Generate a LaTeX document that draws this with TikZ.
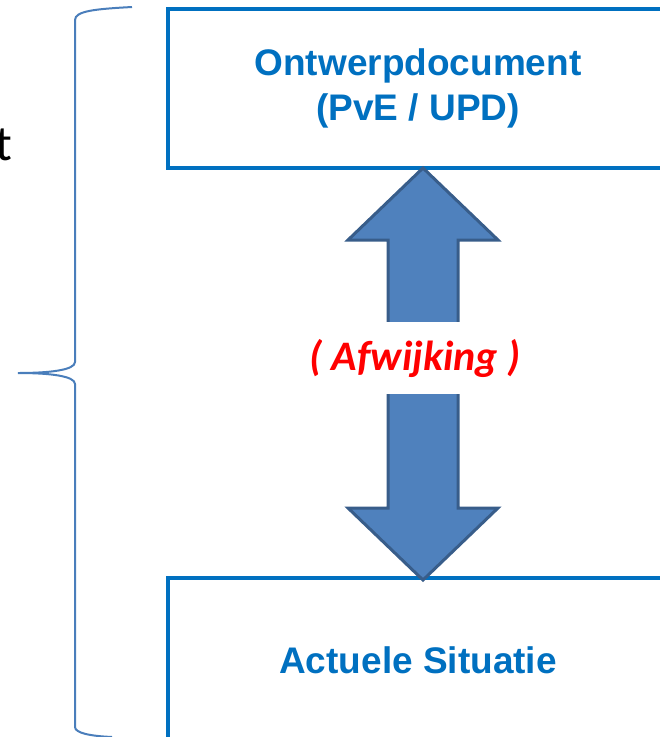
\documentclass[tikz,border=0pt]{standalone}
\usepackage{fontspec}
\setmainfont{Liberation Sans}
\newfontfamily\calibri{Carlito}
\usetikzlibrary{positioning}
\definecolor{boxblue}{HTML}{0070C0}
\definecolor{arrowfill}{HTML}{4F81BD}
\definecolor{arrowedge}{HTML}{385D8A}
\definecolor{bracecol}{HTML}{4A7EBB}
\tikzstyle{docbox} = [rectangle, minimum width=501pt, draw=boxblue, line width=4pt, text=boxblue, font=\fontsize{37}{45}\selectfont\bfseries, align=center]
\tikzstyle{fatarrow} = [fill=arrowfill, draw=arrowedge, line width=3pt, line join=miter]
\tikzstyle{deviation} = [fill=white, minimum height=72pt, text=red, font=\calibri\fontsize{42}{46}\selectfont\bfseries\itshape]
\tikzstyle{bracket} = [draw=bracecol, line width=2pt]

\begin{document}
\begin{tikzpicture}[x=1pt,y=-1pt]
	\useasboundingbox (0,0) rectangle (660,737);
	\clip (0,0) rectangle (660,737);
	
	\node (tletter) [anchor=base east, inner sep=0pt, font=\calibri\fontsize{50}{60}\selectfont] at (12,160) {t};
	
	\draw [bracket] (132,7) .. controls (95,9) and (75,11) .. (75,20) -- (75,362)
		.. controls (75,370) and (50,373) .. (18,373)
		.. controls (50,373) and (75,376) .. (75,384) -- (75,727)
		.. controls (75,733) and (90,736) .. (112,737);
	
	\node (ontwerp) [docbox, anchor=north, minimum height=159pt] at (418,7) {Ontwerpdocument\\(PvE / UPD)};
	
	\node (actueel) [docbox, minimum height=164pt, below=406pt of ontwerp.south] {Actuele Situatie};
	
	\draw [fatarrow] ([shift={(5,-2)}]ontwerp.south) -- ++(75,72) -- ++(-40,0) -- ++(0,268)
		-- ++(40,0) -- ++(-75,72) -- ++(-75,-72) -- ++(40,0) -- ++(0,-268) -- ++(-40,0) -- cycle;
	
	\node (afw) [deviation] at (415,358) {( Afwijking )};
\end{tikzpicture}
\end{document}
